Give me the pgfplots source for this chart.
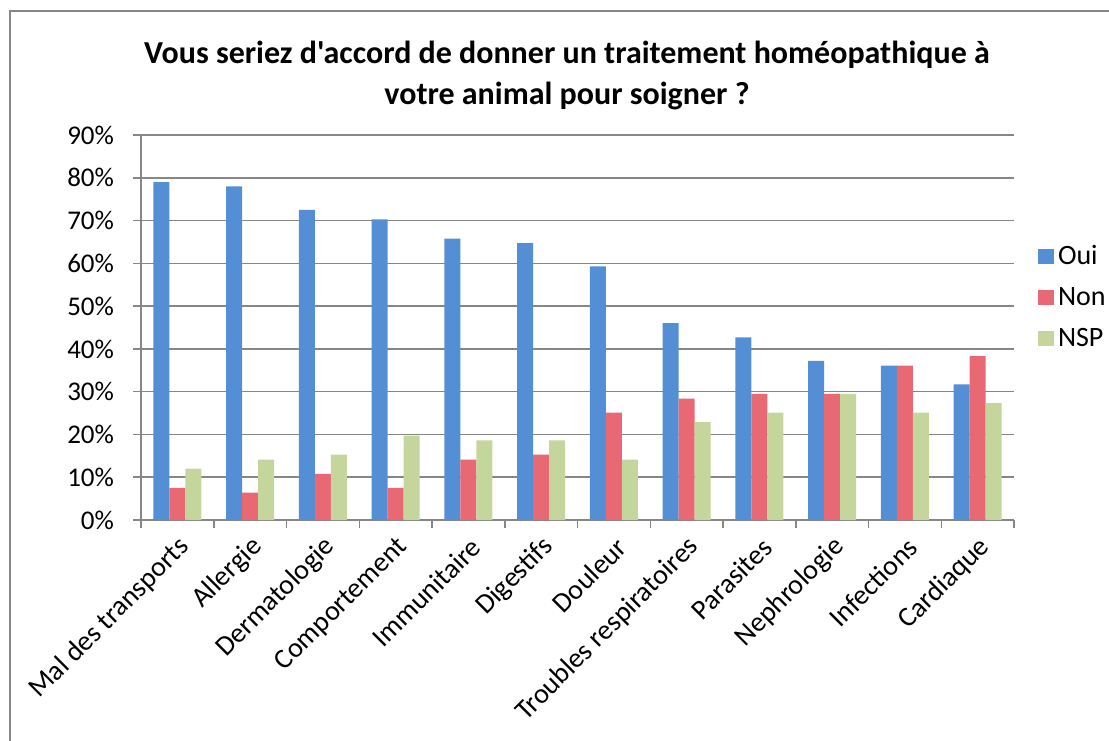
\documentclass[border=0pt]{standalone}
\usepackage{pgfplots}
\pgfplotsset{compat=1.18}
\usepackage{fontspec}
\setmainfont{Carlito}[Ligatures=TeXOff]

\definecolor{oui}{RGB}{84,142,213}
\definecolor{non}{RGB}{232,104,116}
\definecolor{nsp}{RGB}{196,214,155}
\definecolor{axgray}{RGB}{134,134,134}

\begin{document}
\begin{tikzpicture}
% 1 px of the reference = 0.5pt, origin at the top left corner
\useasboundingbox (0,0) rectangle (554.5pt,-370pt);
\draw[axgray, line width=1pt] (5pt,-400pt) -- (5pt,-5.5pt) -- (600pt,-5.5pt);

\node[font=\bfseries\fontsize{16}{20.5}\selectfont, align=center]
  at (283.5pt,-37.5pt)
  {Vous seriez d'accord de donner un traitement homéopathique à\\votre animal pour soigner ?};

\begin{axis}[
  at={(70.5pt,-260pt)}, anchor=south west,
  scale only axis, width=436.5pt, height=192.5pt,
  xmin=-0.5, xmax=11.5,
  ymin=0, ymax=90,
  ytick={0,10,...,90},
  yticklabel={\pgfmathprintnumber{\tick}\%},
  /pgf/number format/assume math mode=true,
  xtick={0,...,11},
  xticklabels={Mal des transports, Allergie, Dermatologie, Comportement, Immunitaire,
    Digestifs, Douleur, Troubles respiratoires, Parasites, Nephrologie, Infections, Cardiaque},
  minor xtick={-0.5,0.5,...,11.5},
  xticklabel style={rotate=45, anchor=east, yshift=-8pt, xshift=1pt},
  yticklabel style={xshift=-6pt},
  major x tick style={draw=none},
  tick align=outside,
  major tick length=4pt, minor tick length=4pt,
  tick style={axgray, line width=0.75pt},
  axis x line*=bottom, axis y line*=left,
  axis line style={axgray, line width=0.75pt, -},
  ymajorgrids, major grid style={axgray, line width=0.75pt},
  ticklabel style={font=\fontsize{13.5}{16}\selectfont},
  xticklabel style={font=\fontsize{14}{16}\selectfont},
  ybar, bar width=8pt,
  legend style={draw=none, fill=none, at={(1,0.579)}, anchor=west, xshift=9pt,
    font=\fontsize{14}{16}\selectfont, row sep=6pt, cells={anchor=west}},
  legend image code/.code={\fill[#1] (0pt,-3.75pt) rectangle (7.8pt,3.75pt);},
]
\addplot[fill=oui, draw=none, bar shift=-8pt] coordinates {
  (0,79.0) (1,78.0) (2,72.5) (3,70.3) (4,65.8) (5,64.7)
  (6,59.3) (7,46.0) (8,42.7) (9,37.2) (10,36.1) (11,31.7)};
\addplot[fill=non, draw=none, bar shift=0pt] coordinates {
  (0,7.5) (1,6.4) (2,10.8) (3,7.5) (4,14.1) (5,15.3)
  (6,25.1) (7,28.4) (8,29.5) (9,29.5) (10,36.1) (11,38.3)};
\addplot[fill=nsp, draw=none, bar shift=8pt] coordinates {
  (0,12.0) (1,14.1) (2,15.3) (3,19.7) (4,18.6) (5,18.6)
  (6,14.1) (7,22.9) (8,25.1) (9,29.5) (10,25.1) (11,27.3)};
\legend{Oui, Non, NSP}
\end{axis}
\end{tikzpicture}
\end{document}
